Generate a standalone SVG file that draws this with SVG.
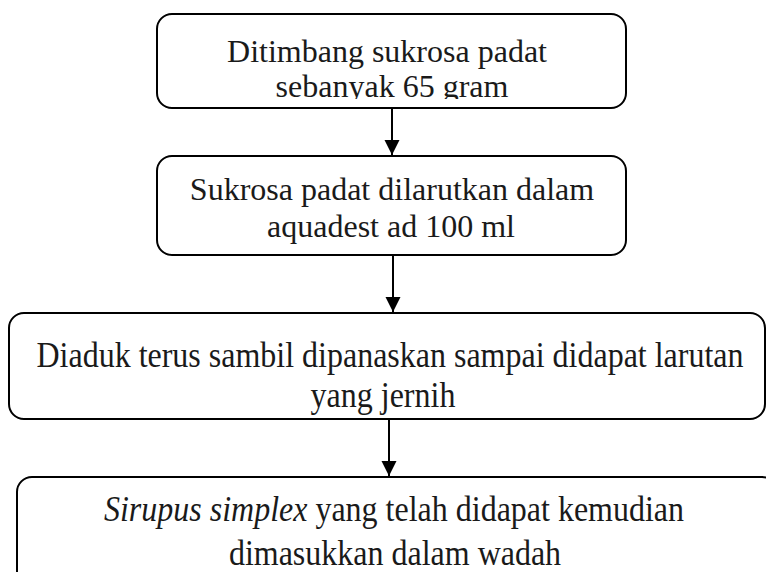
<svg xmlns="http://www.w3.org/2000/svg" width="766" height="572" viewBox="0 0 766 572">
  <style>
    .box { fill: #ffffff; stroke: #000000; stroke-width: 2; }
    .t { font-family: "Liberation Serif", "Times New Roman", serif; font-size: 32px; fill: #1a1a1a; text-anchor: middle; }
    .conn { stroke: #000000; stroke-width: 2; fill: none; }
  </style>
  <defs>
    <marker id="arrow" markerUnits="userSpaceOnUse" markerWidth="16" markerHeight="16" viewBox="0 0 16 16" refX="15" refY="8" orient="auto">
      <path d="M0,0.5 L15,8 L0,15.5 Z" fill="#000000"/>
    </marker>
    <clipPath id="clip1">
      <rect x="150" y="0" width="490" height="99"/>
    </clipPath>
  </defs>
  <rect width="766" height="572" fill="#ffffff"/>

  <g id="node1">
    <rect class="box" x="157" y="14" width="469" height="94" rx="15" ry="15"/>
    <text class="t" x="387" y="62">Ditimbang sukrosa padat</text>
    <text class="t" x="392" y="97" clip-path="url(#clip1)">sebanyak 65 gram</text>
  </g>

  <g id="node2">
    <rect class="box" x="157" y="156" width="469" height="99" rx="15" ry="15"/>
    <text class="t" x="392" y="200">Sukrosa padat dilarutkan dalam</text>
    <text class="t" x="391" y="237">aquadest ad 100 ml</text>
  </g>

  <g id="node3">
    <rect class="box" x="9" y="313" width="756" height="106" rx="15" ry="15"/>
    <text class="t" transform="translate(390,367) scale(1,1.15)">Diaduk terus sambil dipanaskan sampai didapat larutan</text>
    <text class="t" transform="translate(383,407) scale(1,1.15)">yang jernih</text>
  </g>

  <g id="node4">
    <rect class="box" x="17" y="477" width="760" height="110" rx="15" ry="15"/>
    <text class="t" transform="translate(394,521) scale(1,1.15)"><tspan font-style="italic">Sirupus simplex</tspan> yang telah didapat kemudian</text>
    <text class="t" transform="translate(395,565) scale(1,1.15)">dimasukkan dalam wadah</text>
  </g>

  <g id="connectors">
    <line class="conn" x1="392" y1="108" x2="392" y2="155" marker-end="url(#arrow)"/>
    <line class="conn" x1="393" y1="255" x2="393" y2="312" marker-end="url(#arrow)"/>
    <line class="conn" x1="389" y1="419" x2="389" y2="476" marker-end="url(#arrow)"/>
  </g>
</svg>
